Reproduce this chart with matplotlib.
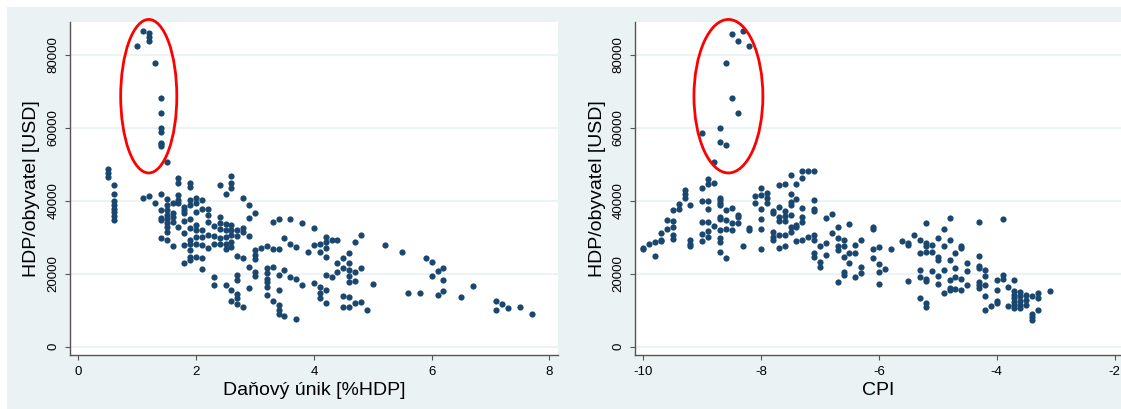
import matplotlib
matplotlib.use('Agg')
from matplotlib import pyplot as plt
from matplotlib.patches import Ellipse, Rectangle
import numpy as np

# Values, HDP in thousands of USD
dan_unik = [
    1.0, 1.1, 1.2, 1.2, 1.2, 1.3, 1.4, 1.4, 1.4, 1.4, 1.4, 1.4, 1.4, 1.5,
    0.5, 0.5, 0.5,
    0.6, 0.6, 0.6, 0.6, 0.6, 0.6, 0.6, 0.6,
    1.1, 1.2, 1.3,
    1.4, 1.4, 1.4, 1.4, 1.4,
    1.5, 1.5, 1.5, 1.5, 1.5, 1.5, 1.5, 1.5, 1.5,
    1.6, 1.6, 1.6, 1.6, 1.6,
    1.7, 1.7, 1.7, 1.7, 1.7, 1.7,
    1.8, 1.8, 1.8, 1.8, 1.8, 1.8, 1.8,
    1.9, 1.9, 1.9, 1.9, 1.9, 1.9, 1.9, 1.9, 1.9, 1.9, 1.9,
    2.0, 2.0, 2.0, 2.0, 2.0, 2.0, 2.0, 2.0,
    2.1, 2.1, 2.1, 2.1, 2.1, 2.1, 2.1,
    2.2, 2.2, 2.2, 2.2, 2.2,
    2.3, 2.3, 2.3, 2.3, 2.3,
    2.4, 2.4, 2.4, 2.4, 2.4, 2.4,
    2.5, 2.5, 2.5, 2.5, 2.5, 2.5, 2.5,
    2.6, 2.6, 2.6, 2.6, 2.6, 2.6, 2.6, 2.6, 2.6, 2.6,
    2.7, 2.7, 2.7, 2.7, 2.7, 2.7, 2.7, 2.7,
    2.8, 2.8, 2.8, 2.8, 2.8,
    2.9, 2.9, 2.9, 2.9, 2.9,
    3.0, 3.0, 3.0, 3.0, 3.0, 3.0,
    3.1,
    3.2, 3.2, 3.2, 3.2, 3.2, 3.2, 3.2,
    3.3, 3.3, 3.3, 3.3,
    3.4, 3.4, 3.4, 3.4, 3.4, 3.4, 3.4,
    3.5, 3.5, 3.5,
    3.6, 3.6, 3.6,
    3.7, 3.7, 3.7,
    3.8, 3.8,
    3.9,
    4.0, 4.0, 4.0,
    4.1, 4.1, 4.1, 4.1, 4.1,
    4.2, 4.2, 4.2, 4.2, 4.2, 4.2, 4.2,
    4.3, 4.3,
    4.4, 4.4, 4.4,
    4.5, 4.5, 4.5, 4.5,
    4.6, 4.6, 4.6, 4.6, 4.6, 4.6, 4.6,
    4.7, 4.7, 4.7, 4.7,
    4.8, 4.8, 4.8,
    4.9, 5.0, 5.2, 5.5, 5.6, 5.8, 5.9,
    6.0, 6.0,
    6.1, 6.1,
    6.2, 6.2, 6.2,
    6.5, 6.7,
    7.1, 7.1,
    7.2, 7.3, 7.5, 7.7,
]
hdp_dan = [
    82.5, 86.6, 85.9, 84.9, 83.9, 77.9, 68.2, 64.0, 60.1, 58.8, 56.0, 55.6, 55.1, 50.6,
    48.6, 47.7, 46.6,
    44.4, 42.0, 39.9, 38.9, 37.8, 37.0, 35.9, 34.7,
    40.7, 41.3, 39.3,
    42.0, 37.5, 35.2, 34.7, 29.7,
    40.4, 38.9, 37.5, 36.1, 35.0, 34.0, 32.7, 31.5, 29.4,
    39.3, 36.7, 35.6, 34.3, 27.6,
    46.4, 44.8, 41.6, 40.2, 39.3, 32.9,
    38.4, 37.5, 36.6, 34.6, 31.1, 27.9, 23.0,
    45.0, 43.9, 40.2, 38.9, 34.9, 32.5, 29.4, 28.3, 26.5, 24.7, 23.8,
    40.7, 39.3, 37.0, 33.4, 32.0, 30.2, 28.3, 24.5,
    40.2, 37.7, 32.0, 30.2, 27.9, 24.2, 21.3,
    37.7, 36.1, 34.3, 30.6, 27.0,
    33.1, 30.3, 28.3, 19.0, 16.9,
    44.3, 35.6, 34.0, 32.2, 29.7, 28.3,
    41.9, 33.6, 32.0, 30.0, 28.3, 26.7, 16.9,
    46.8, 44.8, 43.4, 33.4, 32.0, 30.6, 28.8, 27.4, 15.5, 12.6,
    32.0, 30.3, 24.9, 19.7, 18.3, 14.4, 13.3, 11.7,
    40.7, 32.5, 31.5, 24.2, 11.0,
    38.9, 35.2, 30.3, 21.9, 16.0,
    36.6, 26.5, 25.1, 24.0, 20.6, 19.4,
    27.2,
    27.6, 21.5, 20.1, 18.7, 17.8, 16.5, 14.2,
    34.3, 26.7, 21.9, 12.6,
    34.9, 26.7, 19.7, 15.5, 11.4, 10.2, 9.1,
    29.7, 21.0, 8.4,
    34.9, 28.2, 19.2,
    27.4, 18.5, 7.5,
    34.0, 16.9,
    26.1,
    32.5, 27.9, 17.4,
    28.3, 26.1, 16.5, 14.6, 13.3,
    30.0, 28.8, 27.1, 24.7, 19.7, 15.5, 12.1,
    29.4, 19.0,
    29.2, 22.9, 20.6,
    24.2, 21.5, 14.0, 11.0,
    25.6, 22.9, 21.0, 19.4, 17.8, 13.7, 10.8,
    28.8, 20.6, 18.1, 11.9,
    30.6, 21.5, 12.3,
    10.2, 17.2, 28.0, 26.1, 14.6, 14.8, 24.4,
    23.1, 19.4,
    20.8, 14.2,
    21.6, 18.3, 15.4,
    13.5, 16.6,
    12.4, 10.1,
    11.7, 10.5, 11.0, 9.1,
]

cpi = [
    -8.5, -8.4, -8.3, -8.2, -8.6, -8.5, -8.4, -8.7, -9.0, -8.7, -8.6, -8.8,
    -10.0, -10.0,
    -9.9,
    -9.8, -9.8,
    -9.7, -9.7, -9.7,
    -9.6, -9.6,
    -9.5, -9.5, -9.5, -9.5, -9.5,
    -9.4, -9.4,
    -9.3, -9.3, -9.3,
    -9.2, -9.2, -9.2, -9.2,
    -9.0, -9.0, -9.0, -9.0, -9.0,
    -8.9, -8.9, -8.9, -8.9, -8.9, -8.9, -8.9,
    -8.8, -8.8,
    -8.7, -8.7, -8.7, -8.7, -8.7, -8.7, -8.7, -8.7, -8.7, -8.7,
    -8.6, -8.6, -8.6, -8.6,
    -8.5, -8.5, -8.5,
    -8.4, -8.4, -8.4,
    -8.3,
    -8.2, -8.2,
    -8.1, -8.1,
    -8.0, -8.0, -8.0, -8.0, -8.0, -8.0,
    -7.9, -7.9, -7.9,
    -7.8, -7.8, -7.8, -7.8, -7.8,
    -7.7, -7.7, -7.7, -7.7, -7.7, -7.7,
    -7.6, -7.6, -7.6, -7.6, -7.6, -7.6,
    -7.5, -7.5, -7.5, -7.5, -7.5, -7.5, -7.5,
    -7.4, -7.4, -7.4, -7.4, -7.4,
    -7.3, -7.3, -7.3, -7.3, -7.3, -7.3,
    -7.2, -7.2,
    -7.1, -7.1, -7.1, -7.1, -7.1, -7.1, -7.1, -7.1,
    -7.0, -7.0, -7.0,
    -6.9, -6.9, -6.9,
    -6.8, -6.8,
    -6.7, -6.7, -6.7, -6.7, -6.7,
    -6.6, -6.6, -6.6, -6.6, -6.6,
    -6.5, -6.5, -6.5,
    -6.4, -6.4, -6.4,
    -6.3, -6.3, -6.3,
    -6.1, -6.1, -6.1, -6.1,
    -6.0, -6.0, -6.0, -6.0,
    -5.9, -5.8, -5.6,
    -5.5, -5.5, -5.5,
    -5.4,
    -5.3, -5.3, -5.3, -5.3, -5.3,
    -5.2, -5.2, -5.2, -5.2, -5.2, -5.2, -5.2, -5.2,
    -5.1, -5.1, -5.1,
    -5.0, -5.0, -5.0, -5.0, -5.0,
    -4.9, -4.9, -4.9, -4.9,
    -4.8, -4.8, -4.8, -4.8, -4.8, -4.8,
    -4.7, -4.7, -4.7, -4.7,
    -4.6, -4.6, -4.6, -4.6,
    -4.5, -4.5, -4.5,
    -4.3, -4.3, -4.3, -4.3, -4.3, -4.3, -4.3,
    -4.2, -4.2, -4.2, -4.2, -4.2,
    -4.1,
    -4.0, -4.0, -4.0, -4.0,
    -3.9, -3.9, -3.9,
    -3.8, -3.8,
    -3.7, -3.7, -3.7, -3.7, -3.7, -3.7, -3.7,
    -3.6, -3.6, -3.6, -3.6, -3.6,
    -3.5, -3.5, -3.5,
    -3.4, -3.4, -3.4, -3.4,
    -3.3, -3.3, -3.3,
    -3.1,
]
hdp_cpi = [
    85.7, 83.9, 86.7, 82.4, 77.9, 68.2, 64.0, 60.1, 58.7, 56.1, 55.2, 50.6,
    27.2, 26.7,
    28.1,
    28.8, 25.0,
    31.3, 29.4, 29.0,
    34.7, 32.2,
    37.5, 34.5, 32.9, 30.6, 29.6,
    39.1, 37.7,
    43.1, 42.0, 40.7,
    38.8, 29.2, 28.3, 27.6,
    43.6, 40.0, 34.3, 30.8, 29.1,
    45.9, 44.5, 39.9, 37.9, 34.3, 31.8, 30.0,
    44.8, 33.1,
    40.9, 40.2, 39.5, 38.8, 35.6, 34.9, 32.0, 29.9, 28.8, 26.0,
    37.5, 34.7, 32.4, 24.2,
    38.1, 34.0, 32.0,
    36.1, 35.5, 33.8,
    27.6,
    32.6, 32.0,
    41.3, 39.3,
    43.4, 41.6, 37.9, 34.9, 32.2, 26.8,
    42.2, 40.7, 39.3,
    37.3, 36.7, 31.5, 30.2, 29.4,
    44.3, 38.4, 35.6, 34.5, 30.6, 27.1,
    44.5, 37.3, 35.8, 34.5, 30.6, 27.6,
    47.1, 42.0, 39.8, 38.8, 36.1, 32.9, 31.5,
    44.5, 40.4, 33.4, 32.7, 29.0,
    48.3, 46.3, 38.1, 35.6, 34.3, 29.4,
    48.3, 30.2,
    48.3, 40.2, 37.9, 37.3, 30.6, 29.2, 25.6, 24.5,
    27.6, 23.3, 21.8,
    35.2, 28.5, 25.1,
    36.4, 31.1,
    32.7, 29.7, 27.6, 26.5, 17.8,
    29.2, 27.6, 24.7, 20.6, 19.7,
    33.6, 25.8, 22.9,
    27.9, 25.8, 19.0,
    29.2, 21.8, 20.1,
    32.7, 32.2, 26.7, 24.2,
    27.4, 22.7, 20.6, 17.2,
    21.2, 26.7, 29.0,
    28.5, 27.9, 18.1,
    30.6,
    29.2, 25.8, 21.0, 19.2, 13.4,
    33.8, 28.5, 27.6, 26.0, 18.7, 18.1, 11.9, 11.0,
    27.9, 26.0, 20.7,
    29.7, 24.5, 23.8, 19.4, 17.2,
    32.2, 27.6, 21.0, 14.6,
    35.4, 29.4, 23.9, 18.3, 16.0, 15.5,
    25.6, 21.5, 19.0, 15.7,
    27.6, 27.2, 18.5, 15.5,
    23.0, 20.8, 16.9,
    34.3, 25.0, 22.1, 21.5, 17.8, 16.9, 16.0,
    21.0, 19.4, 16.9, 13.9, 10.2,
    11.2,
    18.3, 15.5, 12.5, 11.9,
    34.9, 19.7, 18.5,
    16.5, 11.2,
    18.3, 15.4, 14.2, 13.3, 12.3, 11.4, 10.5,
    15.1, 13.9, 12.6, 11.4, 10.5,
    14.2, 12.8, 11.4,
    13.9, 9.1, 8.2, 7.3,
    14.6, 13.3, 10.1,
    15.4,
]

y_ticks = [0, 20000, 40000, 60000, 80000]
bg = '#EAF2F3'
navy = '#1A476F'
axis_col = '#555555'

plt.rcParams['font.family'] = ['Liberation Sans', 'DejaVu Sans']
plt.rcParams['axes.unicode_minus'] = False

W, H = 1121, 409
fig = plt.figure(figsize=(W / 100, H / 100), dpi=100)
fig.patches.append(Rectangle((7 / W, 0), 1, 1 - 7 / H, transform=fig.transFigure,
                             facecolor=bg, edgecolor='none', zorder=-10))

ax1 = fig.add_axes([70 / W, 54 / H, 488 / W, 333 / H])
ax2 = fig.add_axes([635 / W, 54 / H, 486 / W, 333 / H])


def style(ax, xticks, xlim, xlabel):
    ax.set_facecolor('white')
    ax.set_xlim(*xlim)
    ax.set_ylim(-2276, 89050)
    ax.set_xticks(xticks)
    ax.set_yticks(y_ticks)
    ax.grid(axis='y', color=bg, lw=1.3)
    ax.set_axisbelow(True)
    for s in ['top', 'right']:
        ax.spines[s].set_visible(False)
    for s in ['left', 'bottom']:
        ax.spines[s].set_color(axis_col)
        ax.spines[s].set_linewidth(1.0)
    ax.tick_params(length=3.6, width=0.8, color=axis_col, labelsize=9.5, pad=4)
    plt.setp(ax.get_yticklabels(), rotation=90, va='center')
    ax.set_xlabel(xlabel, fontsize=14, labelpad=3)
    ax.set_ylabel('HDP/obyvatel [USD]', fontsize=14, labelpad=5)


ax1.scatter(dan_unik, np.array(hdp_dan) * 1000, s=20, color=navy, linewidths=0, zorder=3)
style(ax1, [0, 2, 4, 6, 8], (-0.141, 8.145), 'Daňový únik [%HDP]')
ax1.add_patch(Ellipse((1.196, 68700), 0.953, 42100, fill=False, edgecolor='red',
                      lw=2, zorder=4, clip_on=False))

ax2.scatter(cpi, np.array(hdp_cpi) * 1000, s=20, color=navy, linewidths=0, zorder=3)
style(ax2, [-10, -8, -6, -4, -2], (-10.141, -1.89), 'CPI')
ax2.add_patch(Ellipse((-8.555, 68700), 1.17, 42100, fill=False, edgecolor='red',
                      lw=2, zorder=4, clip_on=False))

fig.savefig('out.png', dpi=100)
